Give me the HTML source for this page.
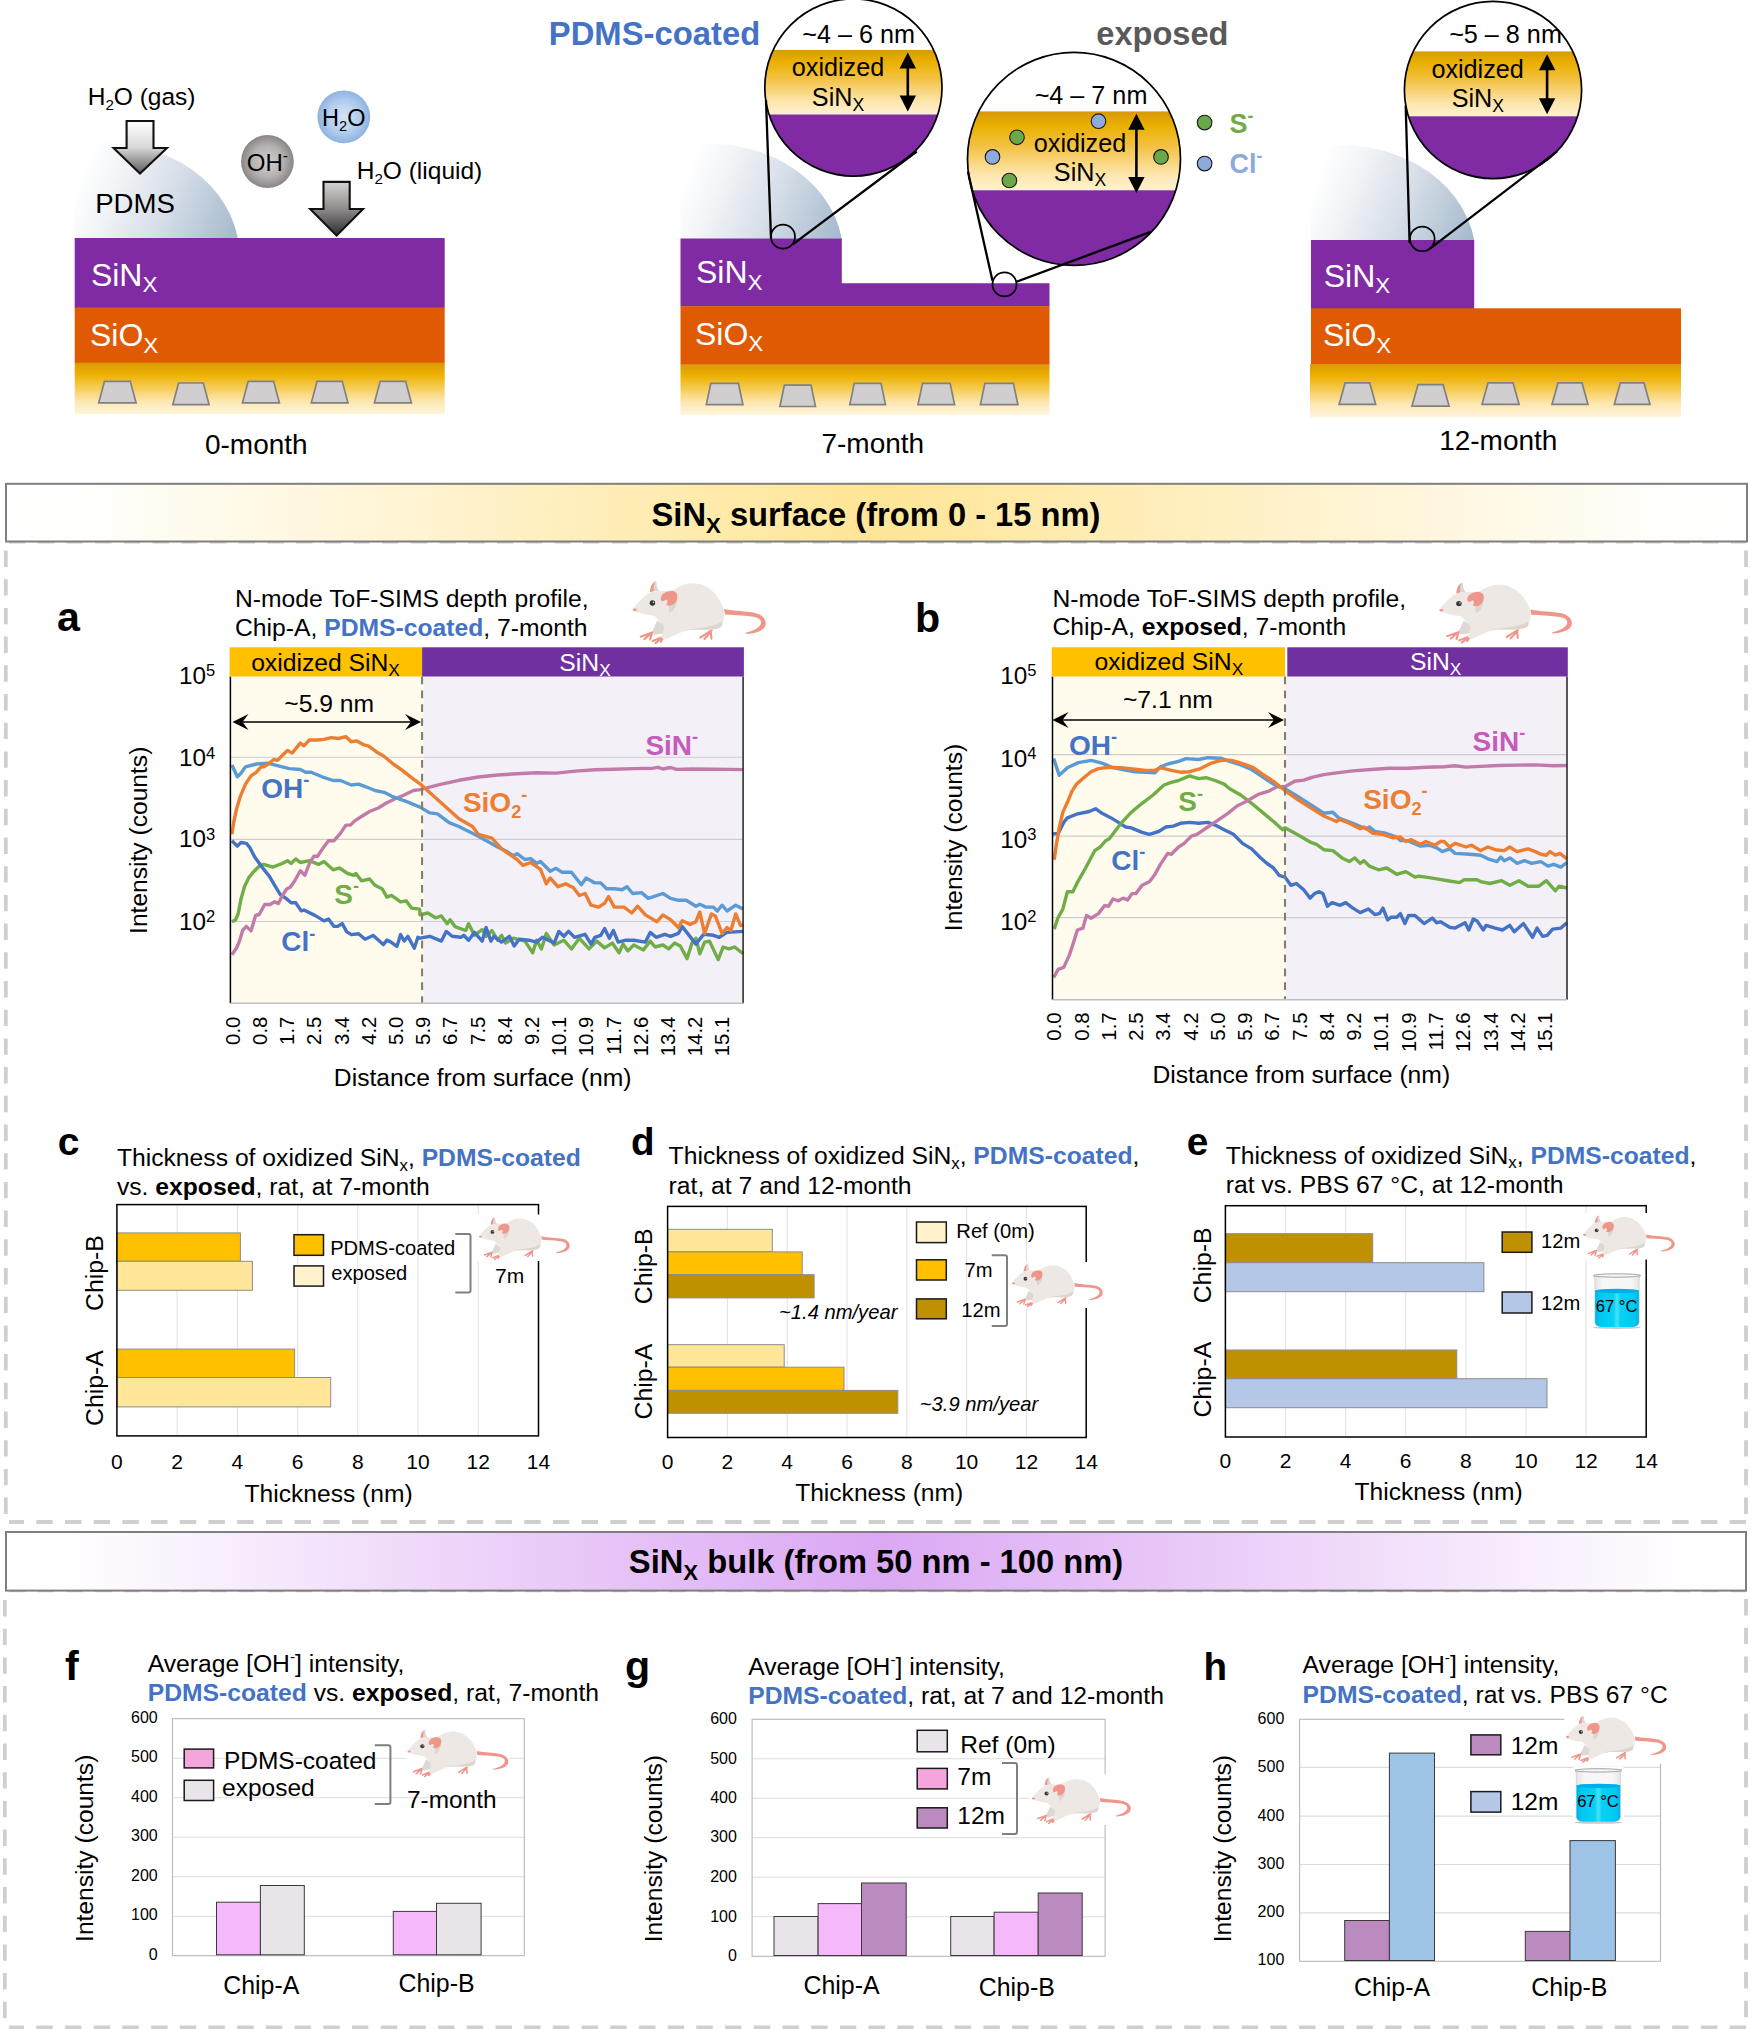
<!DOCTYPE html>
<html lang="en"><head><meta charset="utf-8"><title>SiNx surface and bulk analysis</title>
<style>
html,body{margin:0;padding:0;background:#fff;}
body{width:1750px;height:2029px;overflow:hidden;}
svg{display:block;font-family:"Liberation Sans",Arial,Helvetica,sans-serif;}
</style></head><body>
<svg width="1750" height="2029" viewBox="0 0 1750 2029">
<defs>
<linearGradient id="gold" x1="0" y1="0" x2="0" y2="1">
 <stop offset="0" stop-color="#d99b05"/><stop offset="0.22" stop-color="#ecb000"/><stop offset="0.45" stop-color="#f5c849"/><stop offset="0.75" stop-color="#fde7b0"/><stop offset="1" stop-color="#fff4dc"/>
</linearGradient>
<linearGradient id="goldc" x1="0" y1="0" x2="0" y2="1">
 <stop offset="0" stop-color="#d79a08"/><stop offset="0.18" stop-color="#eab000"/><stop offset="0.45" stop-color="#f3c246"/><stop offset="0.8" stop-color="#fde6ae"/><stop offset="1" stop-color="#fff1d2"/>
</linearGradient>
<linearGradient id="dome" x1="0.15" y1="0.1" x2="1" y2="0.9">
 <stop offset="0" stop-color="#ffffff"/><stop offset="0.25" stop-color="#f4f6f9"/><stop offset="0.6" stop-color="#cfd9e4"/><stop offset="1" stop-color="#a3b7cb"/>
</linearGradient>
<linearGradient id="arr1" x1="0" y1="0" x2="0" y2="1">
 <stop offset="0" stop-color="#ffffff"/><stop offset="0.5" stop-color="#d9d9d9"/><stop offset="1" stop-color="#5c5c5c"/>
</linearGradient>
<linearGradient id="arr2" x1="0" y1="0" x2="0" y2="1">
 <stop offset="0" stop-color="#d6d2d2"/><stop offset="0.5" stop-color="#8f8c8c"/><stop offset="1" stop-color="#2e2e2e"/>
</linearGradient>
<radialGradient id="ohg" cx="0.5" cy="0.5" r="0.5">
 <stop offset="0" stop-color="#d3cfcf"/><stop offset="0.6" stop-color="#b5b1b1"/><stop offset="1" stop-color="#8a8686"/>
</radialGradient>
<radialGradient id="h2og" cx="0.5" cy="0.5" r="0.5">
 <stop offset="0" stop-color="#d5e4f7"/><stop offset="0.6" stop-color="#b4cdee"/><stop offset="1" stop-color="#8db3e2"/>
</radialGradient>
<clipPath id="cz1"><circle cx="853.4" cy="87.5" r="88.6"/></clipPath>
<clipPath id="cz2"><circle cx="1074" cy="158.9" r="106.5"/></clipPath>
<clipPath id="cz3"><circle cx="1493" cy="90" r="88.6"/></clipPath>

<symbol id="rat" viewBox="14 11 147 70" preserveAspectRatio="none">
 <path d="M41,55 L35,68 L38,70.5 L48,69 L49.5,60 Z" fill="#ddd8d4"/>
 <path d="M114,42.5 C125,45 138,44.5 148,46.8 C156.5,49 160.5,54 159.3,60 C157.5,66.2 148,69 138,69.6 C137.6,69 137.8,68.4 138.5,68 C146,66.3 153,63 154.3,58 C155.2,53.2 150,51.6 144,50.6 C134,49.2 124,48.8 115,48.4 Z" fill="#f0958a"/>
 <path d="M35.5,68 L23,72.5 M33.5,69.5 L27,75.2 M35,70 L33.2,75.6 M46.5,73 L36,77.2 M45.5,74.2 L39,79.8 M47,74.5 L45,78 M100.5,65.5 L88,73.5 M98.5,68.5 L92.5,75 M99.5,67 L100.2,74.6" stroke="#f0958a" stroke-width="2.3" stroke-linecap="round" fill="none"/>
 <path d="M14.5,42.5 C20,35 27,28 33,24.5 L43,22.5 C50,23 56,23 61,20.5 C67,16 74,14.5 81,14.5 C96,15 109,27 113.5,43 C115.5,52 113,60 109,63 C100,66 88,64.5 78,65 C71,65.5 67,68 62,70 L50,75.6 L45.5,73.8 C47,68 48,64 48.5,61 C45,57 41,53 38,50 C30,49 22,47 17,45.5 Z" fill="#ede8e3"/>
 <path d="M68,66 C80,62.5 100,64 111,56 C113,60 111,62 109,63 C100,66 88,64.5 78,65 C73,65.2 70,66 68,66 Z" fill="#ddd6d0"/>
 <path d="M53.5,39 C57,39 60,36 62.5,31 C63,38 60,44 54.5,47 Z" fill="#dcd6d1"/>
 <path d="M45,31 C45,25 53,22 59,23 C64,24.5 64,31 61,35 C58.5,38.5 54,39.5 51,38 C53,35 52.5,32 50,32.5 C48,33 47.5,34.5 46,34 C45.3,33 45,32 45,31 Z" fill="#f0958a"/>
 <path d="M37,14 C38,12.3 39.6,11.8 40.1,13 C40,17 41,20 43,22.6 L36,23.2 Z" fill="#dcd6d1"/>
 <path d="M33,24.3 C33,19 35,15 38.2,12.8 C37,17 36.5,20 37.2,23.2 Z" fill="#f0958a"/>
 <circle cx="35.8" cy="35.8" r="3" fill="#3a3636"/><circle cx="36.9" cy="35.2" r="0.9" fill="#cfcfcf"/>
 <path d="M14.3,42.5 C15,41.5 17.5,41.5 19.5,42.5 C18.5,44 17,45 15.5,44.8 C14.8,44.3 14.3,43.5 14.3,42.5Z" fill="#f0958a"/>
</symbol>
<linearGradient id="liq" x1="0" y1="0" x2="1" y2="0">
 <stop offset="0" stop-color="#00b4e6"/><stop offset="0.12" stop-color="#00c8f2"/><stop offset="0.42" stop-color="#08d0f5"/><stop offset="0.5" stop-color="#48e2fb"/><stop offset="0.58" stop-color="#08d0f5"/><stop offset="0.9" stop-color="#00c8f2"/><stop offset="1" stop-color="#00b4e6"/>
</linearGradient>
<linearGradient id="glass" x1="0" y1="0" x2="1" y2="0">
 <stop offset="0" stop-color="#e2e2e2"/><stop offset="0.2" stop-color="#f7f7f7"/><stop offset="0.8" stop-color="#f7f7f7"/><stop offset="1" stop-color="#e2e2e2"/>
</linearGradient>

<linearGradient id="hd1" x1="0" y1="0" x2="1" y2="0">
 <stop offset="0" stop-color="#ffffff"/><stop offset="0.05" stop-color="#fffefb"/><stop offset="0.5" stop-color="#ffe596"/><stop offset="0.95" stop-color="#fffefb"/><stop offset="1" stop-color="#ffffff"/>
</linearGradient>
<linearGradient id="hd2" x1="0" y1="0" x2="1" y2="0">
 <stop offset="0" stop-color="#ffffff"/><stop offset="0.05" stop-color="#fefcff"/><stop offset="0.5" stop-color="#dba8f3"/><stop offset="0.95" stop-color="#fefcff"/><stop offset="1" stop-color="#ffffff"/>
</linearGradient>
</defs>
<rect width="1750" height="2029" fill="#fff"/>
<linearGradient id="dg1" gradientUnits="userSpaceOnUse" x1="82.7" y1="168.3" x2="237.8" y2="233.3"><stop offset="0" stop-color="#ffffff"/><stop offset="0.2" stop-color="#f3f5f8"/><stop offset="0.55" stop-color="#d6dee8"/><stop offset="1" stop-color="#a5b9cd"/></linearGradient><path d="M74.7,238.3 L74.7,146.4 A133.3,112.0 0 0 1 237.8,238.3 Z" fill="url(#dg1)"/><rect x="74.7" y="238" width="370" height="70" fill="#802aa3"/><rect x="74.7" y="307.5" width="370" height="55.5" fill="#e05a03"/><rect x="74.7" y="362.7" width="370" height="51.3" fill="url(#gold)"/><path d="M104.5,381.3 L130.3,381.3 L136.1,402.9 L98.7,402.9 Z" fill="#d0cece" stroke="#7f8184" stroke-width="1.7"/><path d="M178.6,383.0 L203.3,383.0 L209.1,404.6 L172.8,404.6 Z" fill="#d0cece" stroke="#7f8184" stroke-width="1.7"/><path d="M248.2,381.3 L273.6,381.3 L279.4,402.9 L242.4,402.9 Z" fill="#d0cece" stroke="#7f8184" stroke-width="1.7"/><path d="M317.1,381.3 L342.2,381.3 L348.0,402.9 L311.3,402.9 Z" fill="#d0cece" stroke="#7f8184" stroke-width="1.7"/><path d="M380.2,381.3 L405.6,381.3 L411.4,402.9 L374.4,402.9 Z" fill="#d0cece" stroke="#7f8184" stroke-width="1.7"/><text x="90.9" y="285.7" font-size="32" text-anchor="start" fill="#fff" ><tspan>SiN</tspan><tspan font-size="22.4" dy="6.4">X</tspan></text><text x="90.0" y="346.4" font-size="32" text-anchor="start" fill="#fff" ><tspan>SiO</tspan><tspan font-size="22.4" dy="6.4">X</tspan></text><text x="87.7" y="105.1" font-size="24.5" text-anchor="start" fill="#000" ><tspan>H</tspan><tspan font-size="15.2" dy="4.9">2</tspan><tspan dy="-4.9">O (gas)</tspan></text><path d="M126.6,121 L153.5,121 L153.5,148 L166.9,148 L140,173.5 L113.6,148 L126.6,148 Z" fill="url(#arr1)" stroke="#111" stroke-width="2.1" stroke-linejoin="miter"/><text x="95.2" y="213.2" font-size="27.6" text-anchor="start" fill="#000" ><tspan>PDMS</tspan></text><circle cx="267.4" cy="161.5" r="26.4" fill="url(#ohg)"/><text x="267.4" y="170.6" font-size="24" text-anchor="middle" fill="#000" ><tspan>OH</tspan><tspan font-size="15.6" dy="-10.1">-</tspan></text><circle cx="343.8" cy="116.9" r="26.4" fill="url(#h2og)"/><text x="343.8" y="126.0" font-size="23.5" text-anchor="middle" fill="#000" ><tspan>H</tspan><tspan font-size="14.6" dy="4.7">2</tspan><tspan dy="-4.7">O</tspan></text><text x="356.7" y="179.0" font-size="24.5" text-anchor="start" fill="#000" ><tspan>H</tspan><tspan font-size="15.2" dy="4.9">2</tspan><tspan dy="-4.9">O (liquid)</tspan></text><path d="M323.5,181.9 L349.7,181.9 L349.7,209 L363,209 L336.6,235.5 L310.2,209 L323.5,209 Z" fill="url(#arr2)" stroke="#111" stroke-width="2.1" stroke-linejoin="miter"/><text x="256.3" y="453.6" font-size="28" text-anchor="middle" fill="#000" ><tspan>0-month</tspan></text><linearGradient id="dg2" gradientUnits="userSpaceOnUse" x1="688.5" y1="168.8" x2="841.8" y2="233.8"><stop offset="0" stop-color="#ffffff"/><stop offset="0.2" stop-color="#f3f5f8"/><stop offset="0.55" stop-color="#d6dee8"/><stop offset="1" stop-color="#a5b9cd"/></linearGradient><path d="M680.5,238.8 L680.5,146.6 A133.3,112.0 0 0 1 841.8,238.8 Z" fill="url(#dg2)"/><path d="M680.5,238.5 H841.8 V283.2 H1049.5 V306.5 H680.5 Z" fill="#802aa3"/><rect x="680.5" y="306.2" width="369" height="58.6" fill="#e05a03"/><rect x="680.5" y="364.6" width="369" height="50" fill="url(#gold)"/><path d="M710.8,383.3 L738.4,383.3 L742.9,404.7 L706.3,404.7 Z" fill="#d0cece" stroke="#7f8184" stroke-width="1.7"/><path d="M784.4,385.1 L811.0,385.1 L815.5,406.5 L779.9,406.5 Z" fill="#d0cece" stroke="#7f8184" stroke-width="1.7"/><path d="M854.3,383.3 L881.0,383.3 L885.5,404.7 L849.8,404.7 Z" fill="#d0cece" stroke="#7f8184" stroke-width="1.7"/><path d="M922.5,383.3 L950.1,383.3 L954.6,404.7 L918.0,404.7 Z" fill="#d0cece" stroke="#7f8184" stroke-width="1.7"/><path d="M984.9,383.3 L1013.4,383.3 L1017.9,404.7 L980.4,404.7 Z" fill="#d0cece" stroke="#7f8184" stroke-width="1.7"/><text x="696.0" y="283.4" font-size="32" text-anchor="start" fill="#fff" ><tspan>SiN</tspan><tspan font-size="22.4" dy="6.4">X</tspan></text><text x="695.0" y="344.9" font-size="32" text-anchor="start" fill="#fff" ><tspan>SiO</tspan><tspan font-size="22.4" dy="6.4">X</tspan></text><text x="548.8" y="45.0" font-size="32.8" text-anchor="start" fill="#4472c4" font-weight="bold" ><tspan>PDMS-coated</tspan></text><text x="1096.3" y="45.0" font-size="32.6" text-anchor="start" fill="#595959" font-weight="bold" ><tspan>exposed</tspan></text><g clip-path="url(#cz1)"><rect x="760" y="-5" width="190" height="55" fill="#fff"/><rect x="760" y="49.9" width="190" height="64.8" fill="url(#goldc)"/><rect x="760" y="114.5" width="190" height="70" fill="#802aa3"/></g><circle cx="853.4" cy="87.5" r="88.6" fill="none" stroke="#000" stroke-width="1.7"/><text x="858.7" y="42.7" font-size="25.2" text-anchor="middle" fill="#000" ><tspan>~4 – 6 nm</tspan></text><text x="838.0" y="76.2" font-size="25.2" text-anchor="middle" fill="#000" ><tspan>oxidized</tspan></text><text x="838.0" y="106.0" font-size="25.2" text-anchor="middle" fill="#000" ><tspan>SiN</tspan><tspan font-size="17.6" dy="5.0">X</tspan></text><line x1="907.8" y1="66.6" x2="907.8" y2="97.6" stroke="#000" stroke-width="2.6"/><path d="M907.8,52.6 L899.5999999999999,68.6 L916.0,68.6 Z M907.8,111.6 L899.5999999999999,95.6 L916.0,95.6 Z" fill="#000"/><circle cx="783" cy="236.7" r="12" fill="none" stroke="#000" stroke-width="1.7"/><path d="M771,238.5 L766,100.3 M792.8,244.3 L916.7,151.5" stroke="#000" stroke-width="2.3" fill="none"/><g clip-path="url(#cz2)"><rect x="960" y="50" width="230" height="62" fill="#fff"/><rect x="960" y="111.4" width="230" height="79.2" fill="url(#goldc)"/><rect x="960" y="190.3" width="230" height="80" fill="#802aa3"/></g><circle cx="1074" cy="158.9" r="106.5" fill="none" stroke="#000" stroke-width="1.7"/><text x="1091.0" y="103.8" font-size="25.2" text-anchor="middle" fill="#000" ><tspan>~4 – 7 nm</tspan></text><text x="1080.0" y="151.9" font-size="25.2" text-anchor="middle" fill="#000" ><tspan>oxidized</tspan></text><text x="1080.0" y="180.9" font-size="25.2" text-anchor="middle" fill="#000" ><tspan>SiN</tspan><tspan font-size="17.6" dy="5.0">X</tspan></text><line x1="1136.4" y1="127.7" x2="1136.4" y2="179.0" stroke="#000" stroke-width="2.6"/><path d="M1136.4,113.7 L1128.2,129.7 L1144.6000000000001,129.7 Z M1136.4,193 L1128.2,177 L1144.6000000000001,177 Z" fill="#000"/><circle cx="1017" cy="137.3" r="7.3" fill="#6aa84a" stroke="#1a1a1a" stroke-width="1.1"/><circle cx="1098.5" cy="121.2" r="7.3" fill="#8eaadb" stroke="#1a1a1a" stroke-width="1.1"/><circle cx="992.5" cy="156.9" r="7.3" fill="#8eaadb" stroke="#1a1a1a" stroke-width="1.1"/><circle cx="1009.4" cy="180.5" r="7.3" fill="#6aa84a" stroke="#1a1a1a" stroke-width="1.1"/><circle cx="1161" cy="156.9" r="7.3" fill="#6aa84a" stroke="#1a1a1a" stroke-width="1.1"/><circle cx="1204.6" cy="122.6" r="7.3" fill="#6aa84a" stroke="#1a1a1a" stroke-width="1.1"/><circle cx="1204.6" cy="163.6" r="7.3" fill="#8eaadb" stroke="#1a1a1a" stroke-width="1.1"/><text x="1229.6" y="133.2" font-size="27" text-anchor="start" fill="#70ad47" font-weight="bold" ><tspan>S</tspan><tspan font-size="17.6" dy="-11.3">-</tspan></text><text x="1229.6" y="173.4" font-size="27" text-anchor="start" fill="#8eaadb" font-weight="bold" ><tspan>Cl</tspan><tspan font-size="17.6" dy="-11.3">-</tspan></text><circle cx="1004.5" cy="284.4" r="12" fill="none" stroke="#000" stroke-width="1.7"/><path d="M992.5,280.8 L967.9,171.6 M1016,282 L1150.7,231.8" stroke="#000" stroke-width="2.3" fill="none"/><text x="872.8" y="452.8" font-size="28" text-anchor="middle" fill="#000" ><tspan>7-month</tspan></text><linearGradient id="dg3" gradientUnits="userSpaceOnUse" x1="1319.0" y1="170.3" x2="1474.3" y2="235.3"><stop offset="0" stop-color="#ffffff"/><stop offset="0.2" stop-color="#f3f5f8"/><stop offset="0.55" stop-color="#d6dee8"/><stop offset="1" stop-color="#a5b9cd"/></linearGradient><path d="M1311.0,240.3 L1311.0,148.5 A133.3,112.0 0 0 1 1474.3,240.3 Z" fill="url(#dg3)"/><rect x="1311" y="240" width="163.2" height="69" fill="#802aa3"/><rect x="1311" y="308.3" width="370" height="56" fill="#e05a03"/><rect x="1310" y="364" width="371" height="53" fill="url(#gold)"/><path d="M1345.1,382.9 L1369.7,382.9 L1375.7,404.3 L1339.1,404.3 Z" fill="#d0cece" stroke="#7f8184" stroke-width="1.7"/><path d="M1418.0,384.7 L1443.1,384.7 L1449.1,406.1 L1412.0,406.1 Z" fill="#d0cece" stroke="#7f8184" stroke-width="1.7"/><path d="M1488.0,382.9 L1513.1,382.9 L1519.1,404.3 L1482.0,404.3 Z" fill="#d0cece" stroke="#7f8184" stroke-width="1.7"/><path d="M1558.0,382.9 L1582.0,382.9 L1588.0,404.3 L1552.0,404.3 Z" fill="#d0cece" stroke="#7f8184" stroke-width="1.7"/><path d="M1620.3,382.9 L1644.0,382.9 L1650.0,404.3 L1614.3,404.3 Z" fill="#d0cece" stroke="#7f8184" stroke-width="1.7"/><text x="1323.7" y="287.0" font-size="32" text-anchor="start" fill="#fff" ><tspan>SiN</tspan><tspan font-size="22.4" dy="6.4">X</tspan></text><text x="1323.0" y="346.1" font-size="32" text-anchor="start" fill="#fff" ><tspan>SiO</tspan><tspan font-size="22.4" dy="6.4">X</tspan></text><g clip-path="url(#cz3)"><rect x="1400" y="0" width="190" height="52" fill="#fff"/><rect x="1400" y="51.4" width="190" height="65.2" fill="url(#goldc)"/><rect x="1400" y="116.3" width="190" height="70" fill="#802aa3"/></g><circle cx="1493" cy="90" r="88.6" fill="none" stroke="#000" stroke-width="1.7"/><text x="1505.5" y="43.3" font-size="25.2" text-anchor="middle" fill="#000" ><tspan>~5 – 8 nm</tspan></text><text x="1477.6" y="77.5" font-size="25.2" text-anchor="middle" fill="#000" ><tspan>oxidized</tspan></text><text x="1477.9" y="106.7" font-size="25.2" text-anchor="middle" fill="#000" ><tspan>SiN</tspan><tspan font-size="17.6" dy="5.0">X</tspan></text><line x1="1547.1" y1="68.3" x2="1547.1" y2="100.3" stroke="#000" stroke-width="2.6"/><path d="M1547.1,54.3 L1538.8999999999999,70.3 L1555.3,70.3 Z M1547.1,114.3 L1538.8999999999999,98.3 L1555.3,98.3 Z" fill="#000"/><circle cx="1422.3" cy="238.9" r="12.3" fill="none" stroke="#000" stroke-width="1.7"/><path d="M1409.6,242.9 L1405.7,105.7 M1430,248.6 L1557,151.4" stroke="#000" stroke-width="2.3" fill="none"/><text x="1498.3" y="450.4" font-size="28" text-anchor="middle" fill="#000" ><tspan>12-month</tspan></text><g fill="none" stroke="#d0cece" stroke-width="3.8" stroke-dasharray="16.4 12.3"><path d="M9,541.6 H1746 M1746,550.5 V1522 M1746,1522 H9"/><path d="M5.8,550.5 V1522"/><path d="M9,1590.4 H1746 M1746,1599 V2027 M1746,2027.5 H9"/><path d="M4.8,1600 V2027"/></g><rect x="6" y="483.8" width="1741" height="57.7" fill="url(#hd1)" stroke="#7f7f7f" stroke-width="2"/><text x="876.0" y="526.4" font-size="32.7" text-anchor="middle" fill="#000" font-weight="bold" ><tspan>SiN</tspan><tspan font-size="22.2" dy="6.5">X</tspan><tspan dy="-6.5"> surface (from 0 - 15 nm)</tspan></text><rect x="6" y="1532" width="1740" height="58.6" fill="url(#hd2)" stroke="#7f7f7f" stroke-width="2"/><text x="876.0" y="1573.2" font-size="32.7" text-anchor="middle" fill="#000" font-weight="bold" ><tspan>SiN</tspan><tspan font-size="22.2" dy="6.5">X</tspan><tspan dy="-6.5"> bulk (from 50 nm - 100 nm)</tspan></text><text x="57.0" y="630.9" font-size="41.2" text-anchor="start" fill="#000" font-weight="bold" ><tspan>a</tspan></text><text x="235.0" y="606.7" font-size="24.7" text-anchor="start" fill="#000" ><tspan>N-mode ToF-SIMS depth profile,</tspan></text><text x="235.0" y="636.0" font-size="24.7" text-anchor="start" fill="#000" ><tspan>Chip-A, </tspan><tspan fill="#4472c4" font-weight="bold">PDMS-coated</tspan><tspan>, 7-month</tspan></text><rect x="230.4" y="676.5" width="193.3" height="326.7" fill="#fffcee"/><rect x="423.70000000000005" y="676.5" width="319.4" height="326.7" fill="#f4f0f8"/><line x1="230.4" y1="757.3" x2="743.1" y2="757.3" stroke="#cfcbd0" stroke-width="1.1"/><line x1="230.4" y1="839.4" x2="743.1" y2="839.4" stroke="#cfcbd0" stroke-width="1.1"/><line x1="230.4" y1="921.5" x2="743.1" y2="921.5" stroke="#cfcbd0" stroke-width="1.1"/><g fill="none" stroke-width="3.4" stroke-linejoin="round" stroke-linecap="butt"><path d="M231.9,921.8 L235.5,920.0 L238.2,913.6 L241.0,899.0 L244.6,886.3 L249.2,877.1 L253.7,871.7 L259.2,866.2 L263.8,864.4 L272.9,867.1 L282.0,863.5 L287.5,860.7 L291.1,863.5 L295.7,858.9 L300.3,862.5 L309.4,860.7 L318.5,864.4 L324.0,861.6 L333.1,869.8 L339.5,868.0 L347.7,873.5 L354.1,875.3 L355.9,873.5 L361.4,880.8 L369.6,879.0 L375.0,885.3 L382.3,889.0 L386.9,897.2 L391.5,895.4 L400.6,901.8 L406.1,900.8 L411.5,908.1 L419.7,909.1 L420.0,914.9 L427.8,913.0 L435.5,917.8 L441.4,915.9 L447.2,923.7 L450.1,919.8 L455.0,926.6 L465.7,930.5 L468.6,923.7 L474.4,935.3 L482.2,929.5 L486.1,936.3 L491.9,930.5 L497.7,940.2 L501.6,935.3 L505.5,943.1 L513.3,938.2 L524.9,941.1 L532.7,952.8 L536.6,940.2 L541.4,948.9 L546.3,933.4 L554.1,945.0 L563.8,940.2 L571.5,948.9 L579.3,938.2 L589.0,948.9 L596.8,941.1 L604.6,947.9 L612.3,943.1 L619.1,952.8 L623.0,944.1 L627.9,950.9 L633.7,945.0 L643.4,949.9 L650.2,941.1 L655.1,947.0 L662.9,945.0 L668.7,948.9 L674.5,943.1 L680.3,946.0 L687.1,958.6 L692.0,943.1 L695.9,938.2 L699.8,953.8 L704.6,942.1 L709.5,941.1 L718.2,959.6 L723.1,947.0 L728.9,948.9 L734.7,947.0 L743.1,953.8" stroke="#70ad47"/><path d="M231.9,840.7 L237.3,846.1 L241.0,842.5 L246.4,843.4 L250.1,847.9 L254.7,857.1 L262.0,867.1 L269.3,876.2 L274.7,885.3 L280.2,894.5 L285.7,898.1 L291.1,902.7 L295.7,902.7 L301.2,910.9 L303.9,910.0 L314.9,915.4 L324.0,920.9 L328.5,919.1 L334.0,926.4 L337.7,926.4 L342.2,923.6 L346.8,931.9 L351.3,934.6 L358.6,933.7 L365.0,939.2 L373.2,935.5 L383.3,944.6 L386.9,940.1 L390.6,941.9 L396.9,946.4 L400.6,934.6 L404.2,941.0 L407.9,936.4 L414.3,948.3 L417.9,937.3 L420.0,938.2 L429.7,936.3 L441.4,941.1 L446.2,931.4 L452.1,936.3 L460.8,937.3 L463.7,935.3 L468.6,940.2 L474.4,932.4 L482.2,941.1 L486.1,927.5 L490.9,941.1 L493.8,936.3 L501.6,942.1 L509.4,936.3 L514.2,946.0 L519.1,939.2 L528.8,940.2 L536.6,942.1 L542.4,937.3 L554.1,943.1 L558.9,931.4 L563.8,936.3 L568.6,931.4 L574.5,937.3 L585.1,934.3 L591.0,944.1 L594.9,937.3 L600.7,935.3 L604.6,928.5 L609.4,938.2 L613.3,930.5 L618.2,942.1 L625.9,940.2 L633.7,940.2 L645.4,942.1 L650.2,932.4 L656.1,937.3 L664.8,934.3 L670.6,936.3 L678.4,933.4 L682.3,926.6 L695.9,944.1 L703.7,934.3 L713.4,935.3 L719.2,937.3 L727.0,932.4 L743.1,931.4" stroke="#4472c4"/><path d="M231.9,954.7 L236.4,948.3 L239.2,941.9 L242.8,930.0 L246.4,926.4 L251.0,930.9 L255.6,915.4 L259.2,914.5 L264.7,904.5 L270.2,904.5 L274.7,901.8 L278.4,903.6 L282.0,896.3 L286.6,889.0 L290.2,887.2 L294.8,880.8 L300.3,870.7 L304.8,875.3 L309.4,863.5 L313.9,856.2 L317.6,856.2 L323.1,847.9 L328.5,840.7 L334.0,840.7 L340.4,833.4 L345.9,825.1 L350.4,825.1 L355.0,820.6 L362.3,816.0 L369.6,811.5 L378.7,807.8 L386.0,803.3 L395.1,798.7 L404.2,795.0 L413.4,790.5 L420.0,789.6 L439.4,784.7 L458.9,780.3 L478.3,777.0 L497.7,775.0 L517.1,773.7 L536.6,772.7 L556.0,773.1 L575.4,771.1 L594.9,769.8 L614.3,769.2 L633.7,768.6 L653.1,768.2 L658.0,767.3 L662.9,769.0 L670.6,767.5 L676.5,769.4 L692.0,769.0 L711.4,769.2 L730.9,769.4 L743.1,769.6" stroke="#c27ba8"/><path d="M231.9,765.0 L237.3,776.8 L241.0,773.2 L245.5,766.8 L256.5,764.0 L267.4,763.1 L278.4,765.9 L289.3,768.6 L300.3,769.5 L305.7,772.2 L311.2,772.2 L322.1,776.8 L333.1,780.5 L340.4,780.5 L351.3,785.0 L358.6,784.1 L365.9,786.8 L375.0,790.5 L384.2,792.3 L393.3,796.9 L406.1,801.4 L420.0,807.1 L429.7,812.9 L437.5,813.9 L449.1,822.6 L458.9,826.5 L478.3,836.2 L497.7,846.9 L507.4,851.8 L513.3,855.7 L517.1,853.7 L524.9,859.5 L530.7,858.6 L536.6,863.4 L540.5,861.5 L550.2,871.2 L556.0,868.3 L561.8,872.2 L571.5,872.2 L581.3,884.8 L586.1,878.0 L594.9,882.9 L600.7,882.9 L606.5,888.7 L614.3,888.7 L622.1,889.7 L626.9,886.7 L632.7,893.5 L641.5,892.6 L648.3,898.4 L662.9,893.5 L670.6,898.4 L678.4,900.3 L686.2,900.3 L695.9,906.2 L699.8,904.2 L705.6,907.1 L713.4,907.1 L717.3,911.0 L722.1,905.2 L727.0,911.0 L735.7,905.2 L743.1,909.1" stroke="#5b9bd5"/><path d="M231.9,834.3 L233.7,822.4 L236.4,809.6 L240.1,796.9 L245.5,784.1 L251.0,775.9 L256.5,772.2 L261.0,766.8 L263.8,766.8 L268.3,764.0 L273.8,759.5 L277.5,760.4 L282.0,755.8 L287.5,750.4 L292.1,753.1 L300.3,743.1 L303.9,745.8 L309.4,740.0 L316.7,740.0 L324.0,739.4 L331.3,737.6 L338.6,738.5 L345.9,736.7 L351.3,741.8 L356.8,740.9 L364.1,744.9 L368.7,746.2 L376.9,752.2 L383.3,755.8 L393.3,764.0 L402.4,770.4 L411.5,777.7 L420.0,783.8 L439.4,801.3 L458.9,818.7 L472.5,826.5 L478.3,834.3 L491.9,838.2 L501.6,848.9 L517.1,859.5 L523.0,865.4 L530.7,862.5 L540.5,869.3 L546.3,883.8 L550.2,878.0 L557.9,886.7 L565.7,883.8 L573.5,887.7 L579.3,895.5 L585.1,893.5 L591.0,905.2 L598.7,907.1 L604.6,903.3 L608.5,896.5 L614.3,907.1 L624.0,907.1 L631.8,913.0 L637.6,906.2 L645.4,914.9 L657.0,921.7 L662.9,914.9 L670.6,919.8 L678.4,927.5 L682.3,920.7 L690.1,924.6 L695.9,921.7 L699.8,912.0 L704.6,933.4 L711.4,913.9 L715.3,915.9 L722.1,933.4 L727.0,927.5 L730.9,930.5 L735.7,913.9 L740.6,925.6 L743.1,924.6" stroke="#ed7d31"/></g><line x1="422.1" y1="676.5" x2="422.1" y2="1003.2" stroke="#827e6e" stroke-width="2.1" stroke-dasharray="7.8 6.1"/><line x1="230.4" y1="676.5" x2="230.4" y2="1003.2" stroke="#000" stroke-width="1.5"/><line x1="743.1" y1="676.5" x2="743.1" y2="1003.2" stroke="#222" stroke-width="1.5"/><line x1="230.4" y1="1003.2" x2="743.1" y2="1003.2" stroke="#bfbfbf" stroke-width="1.6"/><rect x="229.6" y="647.3" width="192.5" height="29.2" fill="#ffc000"/><rect x="422.1" y="647.3" width="321.8" height="29.2" fill="#7030a0"/><text x="179.0" y="683.8" font-size="24.3" text-anchor="start" fill="#000" ><tspan>10</tspan><tspan font-size="16.5" dy="-7.5">5</tspan></text><text x="179.0" y="766.1" font-size="24.3" text-anchor="start" fill="#000" ><tspan>10</tspan><tspan font-size="16.5" dy="-7.5">4</tspan></text><text x="179.0" y="847.4" font-size="24.3" text-anchor="start" fill="#000" ><tspan>10</tspan><tspan font-size="16.5" dy="-7.5">3</tspan></text><text x="179.0" y="929.7" font-size="24.3" text-anchor="start" fill="#000" ><tspan>10</tspan><tspan font-size="16.5" dy="-7.5">2</tspan></text><text transform="translate(147,840.3) rotate(-90)" text-anchor="middle" font-size="24.6">Intensity (counts)</text><text transform="translate(239.8,1016.6) rotate(-90)" text-anchor="end" font-size="20.4">0.0</text><text transform="translate(267.0,1016.6) rotate(-90)" text-anchor="end" font-size="20.4">0.8</text><text transform="translate(294.2,1016.6) rotate(-90)" text-anchor="end" font-size="20.4">1.7</text><text transform="translate(321.4,1016.6) rotate(-90)" text-anchor="end" font-size="20.4">2.5</text><text transform="translate(348.6,1016.6) rotate(-90)" text-anchor="end" font-size="20.4">3.4</text><text transform="translate(375.8,1016.6) rotate(-90)" text-anchor="end" font-size="20.4">4.2</text><text transform="translate(403.0,1016.6) rotate(-90)" text-anchor="end" font-size="20.4">5.0</text><text transform="translate(430.2,1016.6) rotate(-90)" text-anchor="end" font-size="20.4">5.9</text><text transform="translate(457.4,1016.6) rotate(-90)" text-anchor="end" font-size="20.4">6.7</text><text transform="translate(484.6,1016.6) rotate(-90)" text-anchor="end" font-size="20.4">7.5</text><text transform="translate(511.8,1016.6) rotate(-90)" text-anchor="end" font-size="20.4">8.4</text><text transform="translate(539.0,1016.6) rotate(-90)" text-anchor="end" font-size="20.4">9.2</text><text transform="translate(566.2,1016.6) rotate(-90)" text-anchor="end" font-size="20.4">10.1</text><text transform="translate(593.4,1016.6) rotate(-90)" text-anchor="end" font-size="20.4">10.9</text><text transform="translate(620.6,1016.6) rotate(-90)" text-anchor="end" font-size="20.4">11.7</text><text transform="translate(647.8,1016.6) rotate(-90)" text-anchor="end" font-size="20.4">12.6</text><text transform="translate(675.0,1016.6) rotate(-90)" text-anchor="end" font-size="20.4">13.4</text><text transform="translate(702.2,1016.6) rotate(-90)" text-anchor="end" font-size="20.4">14.2</text><text transform="translate(729.4,1016.6) rotate(-90)" text-anchor="end" font-size="20.4">15.1</text><text x="482.7" y="1086.4" font-size="24.7" text-anchor="middle" fill="#000" ><tspan>Distance from surface (nm)</tspan></text><text x="325.5" y="671.0" font-size="24.7" text-anchor="middle" fill="#000" ><tspan>oxidized SiN</tspan><tspan font-size="17.3" dy="4.9">X</tspan></text><text x="585.0" y="671.0" font-size="24.7" text-anchor="middle" fill="#fff" ><tspan>SiN</tspan><tspan font-size="17.3" dy="4.9">X</tspan></text><text x="329.2" y="712.1" font-size="24.7" text-anchor="middle" fill="#000" ><tspan>~5.9 nm</tspan></text><line x1="234.5" y1="722" x2="419" y2="722" stroke="#000" stroke-width="1.6"/><path d="M232.5,722 L248.5,714 L242.5,722 L248.5,730 Z M421,722 L405,714 L411,722 L405,730 Z" fill="#000"/><text x="261.3" y="798.0" font-size="28" text-anchor="start" fill="#4472c4" font-weight="bold" ><tspan>OH</tspan><tspan font-size="18.2" dy="-11.8">-</tspan></text><text x="462.9" y="812.4" font-size="28" text-anchor="start" fill="#ed7d31" font-weight="bold" ><tspan>SiO</tspan><tspan font-size="18.2" dy="5.6">2</tspan><tspan font-size="18.2" dy="-17.4">-</tspan></text><text x="645.4" y="754.8" font-size="28" text-anchor="start" fill="#c55cbc" font-weight="bold" ><tspan>SiN</tspan><tspan font-size="18.2" dy="-11.8">-</tspan></text><text x="334.3" y="904.0" font-size="28" text-anchor="start" fill="#70ad47" font-weight="bold" ><tspan>S</tspan><tspan font-size="18.2" dy="-11.8">-</tspan></text><text x="281.3" y="951.3" font-size="28" text-anchor="start" fill="#4472c4" font-weight="bold" ><tspan>Cl</tspan><tspan font-size="18.2" dy="-11.8">-</tspan></text><use href="#rat" x="632.5" y="580.1" width="134.6" height="64.4"/><use href="#rat" x="1439.0" y="581.6" width="134.3" height="62.1"/><text x="915.0" y="631.6" font-size="41.2" text-anchor="start" fill="#000" font-weight="bold" ><tspan>b</tspan></text><text x="1052.5" y="606.5" font-size="24.7" text-anchor="start" fill="#000" ><tspan>N-mode ToF-SIMS depth profile,</tspan></text><text x="1052.5" y="634.9" font-size="24.7" text-anchor="start" fill="#000" ><tspan>Chip-A, </tspan><tspan font-weight="bold">exposed</tspan><tspan>, 7-month</tspan></text><rect x="1052.5" y="676.5" width="233.4" height="323.3" fill="#fffcee"/><rect x="1285.9" y="676.5" width="281.1" height="323.3" fill="#f4f0f8"/><line x1="1052.5" y1="754.6" x2="1567" y2="754.6" stroke="#cfcbd0" stroke-width="1.1"/><line x1="1052.5" y1="836.1" x2="1567" y2="836.1" stroke="#cfcbd0" stroke-width="1.1"/><line x1="1052.5" y1="917.6" x2="1567" y2="917.6" stroke="#cfcbd0" stroke-width="1.1"/><g fill="none" stroke-width="3.4" stroke-linejoin="round" stroke-linecap="butt"><path d="M1052.8,833.9 L1058.2,833.4 L1063.7,822.4 L1067.4,817.9 L1076.5,814.2 L1089.3,811.5 L1095.6,808.7 L1102.0,813.3 L1111.1,817.9 L1118.4,822.4 L1125.7,827.0 L1131.2,827.9 L1142.1,832.4 L1149.4,834.3 L1158.6,831.5 L1165.9,827.0 L1173.2,826.1 L1180.5,823.3 L1189.6,822.4 L1198.7,823.3 L1207.8,822.4 L1215.1,825.1 L1224.2,829.7 L1233.4,834.3 L1242.5,843.4 L1251.6,848.9 L1260.7,858.0 L1267.1,863.5 L1273.5,868.0 L1279.0,875.3 L1284.9,877.1 L1290.9,885.3 L1296.4,883.5 L1303.7,889.8 L1310.1,898.1 L1314.7,893.5 L1319.2,891.7 L1322.9,893.5 L1327.4,906.3 L1332.0,902.6 L1340.2,905.3 L1345.7,902.6 L1352.9,908.1 L1360.2,912.6 L1368.4,909.0 L1374.8,914.5 L1379.4,913.6 L1383.0,908.1 L1387.6,919.9 L1391.2,917.2 L1396.7,917.2 L1400.4,913.6 L1404.9,923.6 L1408.6,915.4 L1415.0,915.4 L1424.1,923.6 L1432.3,918.1 L1436.8,922.7 L1440.5,921.8 L1449.6,927.2 L1455.1,928.1 L1465.1,922.7 L1468.8,930.0 L1473.3,919.0 L1477.0,920.9 L1483.3,930.0 L1486.1,925.4 L1495.2,928.1 L1502.5,930.0 L1509.8,925.4 L1514.3,931.8 L1523.5,923.6 L1532.6,937.3 L1537.1,928.1 L1542.6,936.4 L1547.2,935.4 L1552.6,929.1 L1560.9,928.1 L1566.9,922.7" stroke="#4472c4"/><path d="M1054.2,929.1 L1058.2,917.3 L1062.8,909.1 L1067.4,891.7 L1072.8,891.7 L1078.3,880.8 L1085.6,868.0 L1094.7,850.7 L1100.2,847.0 L1105.7,840.7 L1109.3,838.8 L1120.3,824.2 L1131.2,812.4 L1142.1,803.3 L1153.1,795.0 L1164.0,785.0 L1171.3,782.3 L1178.6,780.5 L1189.6,775.9 L1198.7,778.6 L1206.0,777.7 L1215.1,780.5 L1224.2,784.1 L1229.7,788.7 L1240.7,795.0 L1251.6,803.3 L1262.5,812.4 L1273.5,821.5 L1282.6,829.7 L1284.9,827.8 L1298.2,835.1 L1311.0,842.4 L1316.5,844.3 L1323.8,849.7 L1332.9,850.6 L1342.0,857.9 L1349.3,861.6 L1354.8,857.9 L1360.2,863.4 L1363.9,860.7 L1369.4,866.1 L1378.5,869.8 L1386.7,868.0 L1396.7,874.3 L1405.8,871.6 L1415.0,877.1 L1418.6,876.2 L1425.9,877.1 L1436.8,878.9 L1447.8,880.7 L1459.6,882.6 L1464.2,879.8 L1477.0,879.8 L1480.6,881.6 L1489.7,883.5 L1501.6,880.7 L1509.8,885.3 L1518.9,880.7 L1528.0,886.2 L1539.0,886.2 L1546.3,880.7 L1555.4,890.8 L1559.0,886.2 L1566.9,888.0" stroke="#70ad47"/><path d="M1053.7,977.5 L1058.2,969.3 L1063.7,967.4 L1069.2,955.6 L1072.8,944.6 L1077.4,930.0 L1082.9,928.2 L1086.5,915.4 L1091.1,918.2 L1098.4,913.6 L1104.8,905.4 L1108.4,906.3 L1113.0,899.0 L1118.4,900.8 L1123.0,898.1 L1127.6,899.9 L1132.1,893.6 L1135.8,893.6 L1142.1,885.3 L1149.4,881.7 L1154.9,874.4 L1160.4,864.4 L1167.7,853.4 L1171.3,854.3 L1178.6,847.0 L1184.1,843.4 L1191.4,836.1 L1196.9,834.3 L1207.8,827.0 L1218.8,819.7 L1227.9,813.3 L1237.0,806.0 L1246.1,801.4 L1258.9,794.1 L1268.0,791.4 L1277.1,786.8 L1284.9,786.8 L1294.6,781.3 L1303.7,780.1 L1312.8,777.1 L1323.8,774.6 L1334.7,773.1 L1352.9,770.9 L1371.2,769.5 L1389.4,768.2 L1407.7,768.2 L1425.9,767.3 L1444.1,766.7 L1455.1,765.8 L1466.0,767.1 L1480.6,766.4 L1498.8,765.5 L1517.1,765.1 L1535.3,764.9 L1553.6,765.8 L1566.9,765.5" stroke="#c27ba8"/><path d="M1053.7,758.6 L1059.2,775.3 L1067.4,767.7 L1078.3,762.6 L1091.1,760.4 L1102.0,763.1 L1113.0,767.7 L1123.9,769.9 L1134.9,771.7 L1145.8,772.2 L1154.9,772.8 L1160.4,766.8 L1167.7,764.0 L1178.6,761.3 L1185.9,758.6 L1198.7,759.5 L1207.8,757.7 L1220.6,758.2 L1229.7,761.3 L1240.7,765.0 L1251.6,769.5 L1262.5,776.8 L1273.5,784.1 L1284.9,788.6 L1298.2,796.8 L1311.0,805.0 L1323.8,813.3 L1332.9,812.3 L1338.4,817.8 L1352.9,823.3 L1365.7,828.8 L1369.4,826.9 L1374.8,831.5 L1385.8,833.3 L1396.7,837.0 L1400.4,840.6 L1407.7,840.6 L1420.4,846.1 L1429.5,845.2 L1436.8,847.9 L1442.3,851.6 L1449.6,848.8 L1455.1,853.4 L1469.7,854.3 L1480.6,855.2 L1487.9,858.8 L1497.0,861.6 L1500.7,857.0 L1504.3,860.7 L1509.8,857.9 L1517.1,863.4 L1524.4,860.7 L1531.7,863.4 L1540.8,861.6 L1548.1,866.1 L1553.6,864.3 L1560.9,867.1 L1566.9,862.5" stroke="#5b9bd5"/><path d="M1054.2,859.8 L1056.4,844.3 L1059.2,827.9 L1062.8,812.4 L1067.4,802.3 L1071.9,791.4 L1076.5,784.1 L1083.8,777.7 L1091.1,771.7 L1098.4,768.6 L1109.3,767.3 L1120.3,767.7 L1134.9,769.1 L1145.8,770.4 L1154.9,770.4 L1160.4,767.7 L1171.3,770.4 L1180.5,772.2 L1189.6,771.7 L1200.5,768.6 L1211.5,763.1 L1222.4,760.0 L1231.5,760.4 L1242.5,763.7 L1253.4,767.7 L1262.5,774.1 L1273.5,781.4 L1284.9,790.5 L1296.4,798.7 L1309.2,806.9 L1323.8,816.0 L1336.5,821.5 L1340.2,819.6 L1349.3,823.3 L1360.2,828.8 L1363.9,826.9 L1373.0,833.3 L1382.1,834.2 L1393.1,837.9 L1400.4,837.0 L1405.8,841.5 L1411.3,839.7 L1420.4,844.3 L1425.9,841.5 L1435.0,845.2 L1440.5,841.5 L1444.1,841.5 L1449.6,847.0 L1455.1,843.3 L1466.0,847.0 L1471.5,845.2 L1480.6,850.6 L1487.9,847.0 L1495.2,849.7 L1504.3,850.6 L1509.8,847.0 L1517.1,851.6 L1528.0,848.8 L1535.3,851.6 L1540.8,854.3 L1546.3,855.2 L1549.9,851.6 L1555.4,855.2 L1559.9,853.4 L1566.9,858.8" stroke="#ed7d31"/></g><line x1="1285" y1="676.5" x2="1285" y2="999.8" stroke="#827e6e" stroke-width="2.1" stroke-dasharray="7.8 6.1"/><line x1="1052.5" y1="676.5" x2="1052.5" y2="999.8" stroke="#000" stroke-width="1.5"/><line x1="1567" y1="676.5" x2="1567" y2="999.8" stroke="#222" stroke-width="1.5"/><line x1="1052.5" y1="999.8" x2="1567" y2="999.8" stroke="#bfbfbf" stroke-width="1.6"/><rect x="1051.7" y="647.3" width="233.3" height="29.2" fill="#ffc000"/><rect x="1287.3" y="647.3" width="280.5" height="29.2" fill="#7030a0"/><text x="1000.3" y="683.6" font-size="24.3" text-anchor="start" fill="#000" ><tspan>10</tspan><tspan font-size="16.5" dy="-7.5">5</tspan></text><text x="1000.3" y="766.6" font-size="24.3" text-anchor="start" fill="#000" ><tspan>10</tspan><tspan font-size="16.5" dy="-7.5">4</tspan></text><text x="1000.3" y="847.6" font-size="24.3" text-anchor="start" fill="#000" ><tspan>10</tspan><tspan font-size="16.5" dy="-7.5">3</tspan></text><text x="1000.3" y="929.7" font-size="24.3" text-anchor="start" fill="#000" ><tspan>10</tspan><tspan font-size="16.5" dy="-7.5">2</tspan></text><text transform="translate(962,837.5) rotate(-90)" text-anchor="middle" font-size="24.6">Intensity (counts)</text><text transform="translate(1061.3,1012.3) rotate(-90)" text-anchor="end" font-size="20.4">0.0</text><text transform="translate(1088.6,1012.3) rotate(-90)" text-anchor="end" font-size="20.4">0.8</text><text transform="translate(1115.8,1012.3) rotate(-90)" text-anchor="end" font-size="20.4">1.7</text><text transform="translate(1143.1,1012.3) rotate(-90)" text-anchor="end" font-size="20.4">2.5</text><text transform="translate(1170.3,1012.3) rotate(-90)" text-anchor="end" font-size="20.4">3.4</text><text transform="translate(1197.6,1012.3) rotate(-90)" text-anchor="end" font-size="20.4">4.2</text><text transform="translate(1224.9,1012.3) rotate(-90)" text-anchor="end" font-size="20.4">5.0</text><text transform="translate(1252.1,1012.3) rotate(-90)" text-anchor="end" font-size="20.4">5.9</text><text transform="translate(1279.4,1012.3) rotate(-90)" text-anchor="end" font-size="20.4">6.7</text><text transform="translate(1306.6,1012.3) rotate(-90)" text-anchor="end" font-size="20.4">7.5</text><text transform="translate(1333.9,1012.3) rotate(-90)" text-anchor="end" font-size="20.4">8.4</text><text transform="translate(1361.2,1012.3) rotate(-90)" text-anchor="end" font-size="20.4">9.2</text><text transform="translate(1388.4,1012.3) rotate(-90)" text-anchor="end" font-size="20.4">10.1</text><text transform="translate(1415.7,1012.3) rotate(-90)" text-anchor="end" font-size="20.4">10.9</text><text transform="translate(1442.9,1012.3) rotate(-90)" text-anchor="end" font-size="20.4">11.7</text><text transform="translate(1470.2,1012.3) rotate(-90)" text-anchor="end" font-size="20.4">12.6</text><text transform="translate(1497.5,1012.3) rotate(-90)" text-anchor="end" font-size="20.4">13.4</text><text transform="translate(1524.7,1012.3) rotate(-90)" text-anchor="end" font-size="20.4">14.2</text><text transform="translate(1552.0,1012.3) rotate(-90)" text-anchor="end" font-size="20.4">15.1</text><text x="1301.3" y="1083.3" font-size="24.7" text-anchor="middle" fill="#000" ><tspan>Distance from surface (nm)</tspan></text><text x="1168.8" y="669.7" font-size="24.7" text-anchor="middle" fill="#000" ><tspan>oxidized SiN</tspan><tspan font-size="17.3" dy="4.9">X</tspan></text><text x="1435.6" y="669.7" font-size="24.7" text-anchor="middle" fill="#fff" ><tspan>SiN</tspan><tspan font-size="17.3" dy="4.9">X</tspan></text><text x="1167.9" y="707.9" font-size="24.7" text-anchor="middle" fill="#000" ><tspan>~7.1 nm</tspan></text><line x1="1054.5" y1="720" x2="1282" y2="720" stroke="#000" stroke-width="1.6"/><path d="M1052.5,720 L1068.5,712 L1062.5,720 L1068.5,728 Z M1284,720 L1268,712 L1274,720 L1268,728 Z" fill="#000"/><text x="1068.9" y="755.2" font-size="28" text-anchor="start" fill="#4472c4" font-weight="bold" ><tspan>OH</tspan><tspan font-size="18.2" dy="-11.8">-</tspan></text><text x="1363.2" y="808.9" font-size="28" text-anchor="start" fill="#ed7d31" font-weight="bold" ><tspan>SiO</tspan><tspan font-size="18.2" dy="5.6">2</tspan><tspan font-size="18.2" dy="-17.4">-</tspan></text><text x="1472.6" y="750.7" font-size="28" text-anchor="start" fill="#c55cbc" font-weight="bold" ><tspan>SiN</tspan><tspan font-size="18.2" dy="-11.8">-</tspan></text><text x="1178.3" y="811.4" font-size="28" text-anchor="start" fill="#70ad47" font-weight="bold" ><tspan>S</tspan><tspan font-size="18.2" dy="-11.8">-</tspan></text><text x="1111.2" y="870.0" font-size="28" text-anchor="start" fill="#4472c4" font-weight="bold" ><tspan>Cl</tspan><tspan font-size="18.2" dy="-11.8">-</tspan></text><text x="57.8" y="1155.4" font-size="39" text-anchor="start" fill="#000" font-weight="bold" ><tspan>c</tspan></text><text x="116.9" y="1166.4" font-size="24.7" text-anchor="start" fill="#000" ><tspan>Thickness of oxidized SiN</tspan><tspan font-size="16.8" dy="4.4">x</tspan><tspan dy="-4.4">, </tspan><tspan fill="#4472c4" font-weight="bold">PDMS-coated</tspan></text><text x="116.9" y="1195.4" font-size="24.7" text-anchor="start" fill="#000" ><tspan>vs. </tspan><tspan font-weight="bold">exposed</tspan><tspan>, rat, at 7-month</tspan></text><rect x="116.9" y="1204.6" width="421.6" height="231.3" fill="#fff"/><line x1="177.1" y1="1204.6" x2="177.1" y2="1435.9" stroke="#e4e4e4" stroke-width="1.1"/><line x1="237.4" y1="1204.6" x2="237.4" y2="1435.9" stroke="#e4e4e4" stroke-width="1.1"/><line x1="297.6" y1="1204.6" x2="297.6" y2="1435.9" stroke="#e4e4e4" stroke-width="1.1"/><line x1="357.8" y1="1204.6" x2="357.8" y2="1435.9" stroke="#e4e4e4" stroke-width="1.1"/><line x1="418.0" y1="1204.6" x2="418.0" y2="1435.9" stroke="#e4e4e4" stroke-width="1.1"/><line x1="478.3" y1="1204.6" x2="478.3" y2="1435.9" stroke="#e4e4e4" stroke-width="1.1"/><rect x="116.9" y="1232.9" width="123.5" height="28.4" fill="#ffc000" stroke="#8c8c8c" stroke-width="1"/><rect x="116.9" y="1261.3" width="135.5" height="29.0" fill="#ffe699" stroke="#8c8c8c" stroke-width="1"/><rect x="116.9" y="1349.1" width="177.7" height="28.4" fill="#ffc000" stroke="#8c8c8c" stroke-width="1"/><rect x="116.9" y="1377.5" width="213.8" height="29.4" fill="#ffe699" stroke="#8c8c8c" stroke-width="1"/><rect x="116.9" y="1204.6" width="421.6" height="231.3" fill="none" stroke="#000" stroke-width="1.5"/><text x="116.9" y="1468.9" font-size="21" text-anchor="middle" fill="#000" ><tspan>0</tspan></text><text x="177.1" y="1468.9" font-size="21" text-anchor="middle" fill="#000" ><tspan>2</tspan></text><text x="237.4" y="1468.9" font-size="21" text-anchor="middle" fill="#000" ><tspan>4</tspan></text><text x="297.6" y="1468.9" font-size="21" text-anchor="middle" fill="#000" ><tspan>6</tspan></text><text x="357.8" y="1468.9" font-size="21" text-anchor="middle" fill="#000" ><tspan>8</tspan></text><text x="418.0" y="1468.9" font-size="21" text-anchor="middle" fill="#000" ><tspan>10</tspan></text><text x="478.3" y="1468.9" font-size="21" text-anchor="middle" fill="#000" ><tspan>12</tspan></text><text x="538.5" y="1468.9" font-size="21" text-anchor="middle" fill="#000" ><tspan>14</tspan></text><text x="328.6" y="1501.9" font-size="24.6" text-anchor="middle" fill="#000" ><tspan>Thickness (nm)</tspan></text><text transform="translate(102.7,1273) rotate(-90)" text-anchor="middle" font-size="24.8">Chip-B</text><text transform="translate(102.7,1388.1) rotate(-90)" text-anchor="middle" font-size="24.8">Chip-A</text><rect x="294" y="1234.7" width="29.5" height="20.6" fill="#ffc000" stroke="#1a1a1a" stroke-width="1.5"/><rect x="294" y="1265.9" width="29.5" height="20.2" fill="#fff2cc" stroke="#1a1a1a" stroke-width="1.5"/><text x="330.2" y="1254.9" font-size="20.1" text-anchor="start" fill="#000" ><tspan>PDMS-coated</tspan></text><text x="331.3" y="1280.4" font-size="20.1" text-anchor="start" fill="#000" ><tspan>exposed</tspan></text><path d="M455.3,1234 H468.5 Q470.5,1234 470.5,1236 V1290.5 Q470.5,1292.5 468.5,1292.5 H455.3" fill="none" stroke="#7f7f7f" stroke-width="2"/><rect x="477" y="1214.5" width="95" height="46.5" fill="#fff"/><use href="#rat" x="478.8" y="1216.4" width="91.8" height="43.9"/><text x="495.0" y="1282.9" font-size="21" text-anchor="start" fill="#000" ><tspan>7m</tspan></text><text x="631.0" y="1155.3" font-size="38.6" text-anchor="start" fill="#000" font-weight="bold" ><tspan>d</tspan></text><text x="668.6" y="1164.4" font-size="24.7" text-anchor="start" fill="#000" ><tspan>Thickness of oxidized SiN</tspan><tspan font-size="16.8" dy="4.4">x</tspan><tspan dy="-4.4">, </tspan><tspan fill="#4472c4" font-weight="bold">PDMS-coated</tspan><tspan>,</tspan></text><text x="668.6" y="1194.3" font-size="24.7" text-anchor="start" fill="#000" ><tspan>rat, at 7 and 12-month</tspan></text><rect x="667.6" y="1206.4" width="418.6" height="231.1" fill="#fff"/><line x1="727.4" y1="1206.4" x2="727.4" y2="1437.5" stroke="#e4e4e4" stroke-width="1.1"/><line x1="787.2" y1="1206.4" x2="787.2" y2="1437.5" stroke="#e4e4e4" stroke-width="1.1"/><line x1="847.0" y1="1206.4" x2="847.0" y2="1437.5" stroke="#e4e4e4" stroke-width="1.1"/><line x1="906.8" y1="1206.4" x2="906.8" y2="1437.5" stroke="#e4e4e4" stroke-width="1.1"/><line x1="966.6" y1="1206.4" x2="966.6" y2="1437.5" stroke="#e4e4e4" stroke-width="1.1"/><line x1="1026.4" y1="1206.4" x2="1026.4" y2="1437.5" stroke="#e4e4e4" stroke-width="1.1"/><rect x="667.6" y="1229.3" width="104.7" height="22.6" fill="#ffe699" stroke="#8c8c8c" stroke-width="1"/><rect x="667.6" y="1251.9" width="134.6" height="22.8" fill="#ffc000" stroke="#8c8c8c" stroke-width="1"/><rect x="667.6" y="1274.7" width="146.5" height="23.2" fill="#bf9000" stroke="#8c8c8c" stroke-width="1"/><rect x="667.6" y="1344.7" width="116.6" height="22.5" fill="#ffe699" stroke="#8c8c8c" stroke-width="1"/><rect x="667.6" y="1367.2" width="176.4" height="23.2" fill="#ffc000" stroke="#8c8c8c" stroke-width="1"/><rect x="667.6" y="1390.4" width="230.2" height="22.9" fill="#bf9000" stroke="#8c8c8c" stroke-width="1"/><rect x="667.6" y="1206.4" width="418.6" height="231.1" fill="none" stroke="#000" stroke-width="1.5"/><text x="667.6" y="1469.3" font-size="21" text-anchor="middle" fill="#000" ><tspan>0</tspan></text><text x="727.4" y="1469.3" font-size="21" text-anchor="middle" fill="#000" ><tspan>2</tspan></text><text x="787.2" y="1469.3" font-size="21" text-anchor="middle" fill="#000" ><tspan>4</tspan></text><text x="847.0" y="1469.3" font-size="21" text-anchor="middle" fill="#000" ><tspan>6</tspan></text><text x="906.8" y="1469.3" font-size="21" text-anchor="middle" fill="#000" ><tspan>8</tspan></text><text x="966.6" y="1469.3" font-size="21" text-anchor="middle" fill="#000" ><tspan>10</tspan></text><text x="1026.4" y="1469.3" font-size="21" text-anchor="middle" fill="#000" ><tspan>12</tspan></text><text x="1086.2" y="1469.3" font-size="21" text-anchor="middle" fill="#000" ><tspan>14</tspan></text><text x="879.2" y="1500.8" font-size="24.6" text-anchor="middle" fill="#000" ><tspan>Thickness (nm)</tspan></text><text transform="translate(651.9,1266.3) rotate(-90)" text-anchor="middle" font-size="24.8">Chip-B</text><text transform="translate(651.9,1381.5) rotate(-90)" text-anchor="middle" font-size="24.8">Chip-A</text><rect x="916.5" y="1222" width="29.8" height="20.6" fill="#fff2cc" stroke="#1a1a1a" stroke-width="1.5"/><rect x="916.5" y="1259.8" width="29.8" height="20.2" fill="#ffc000" stroke="#1a1a1a" stroke-width="1.5"/><rect x="916.5" y="1298.9" width="29.8" height="19.9" fill="#bf9000" stroke="#1a1a1a" stroke-width="1.5"/><text x="956.3" y="1238.0" font-size="20.2" text-anchor="start" fill="#000" ><tspan>Ref (0m)</tspan></text><text x="964.6" y="1277.1" font-size="20.2" text-anchor="start" fill="#000" ><tspan>7m</tspan></text><text x="961.3" y="1316.6" font-size="20.2" text-anchor="start" fill="#000" ><tspan>12m</tspan></text><path d="M991.8,1255.2 H1005 Q1007,1255.2 1007,1257.2 V1324.1 Q1007,1326.1 1005,1326.1 H991.8" fill="none" stroke="#7f7f7f" stroke-width="2"/><rect x="1010" y="1262" width="95" height="46" fill="#fff"/><use href="#rat" x="1011.8" y="1263.0" width="91.9" height="44.4"/><text x="779.0" y="1319.2" font-size="20.2" text-anchor="start" fill="#000" font-style="italic" ><tspan>~1.4 nm/year</tspan></text><text x="919.8" y="1411.0" font-size="20.2" text-anchor="start" fill="#000" font-style="italic" ><tspan>~3.9 nm/year</tspan></text><text x="1186.8" y="1155.4" font-size="38.8" text-anchor="start" fill="#000" font-weight="bold" ><tspan>e</tspan></text><text x="1225.7" y="1163.7" font-size="24.7" text-anchor="start" fill="#000" ><tspan>Thickness of oxidized SiN</tspan><tspan font-size="16.8" dy="4.4">x</tspan><tspan dy="-4.4">, </tspan><tspan fill="#4472c4" font-weight="bold">PDMS-coated</tspan><tspan>,</tspan></text><text x="1225.7" y="1193.0" font-size="24.7" text-anchor="start" fill="#000" ><tspan>rat vs. PBS 67 °C, at 12-month</tspan></text><rect x="1225.4" y="1205.7" width="420.8" height="231.3" fill="#fff"/><line x1="1285.5" y1="1205.7" x2="1285.5" y2="1437" stroke="#e4e4e4" stroke-width="1.1"/><line x1="1345.6" y1="1205.7" x2="1345.6" y2="1437" stroke="#e4e4e4" stroke-width="1.1"/><line x1="1405.7" y1="1205.7" x2="1405.7" y2="1437" stroke="#e4e4e4" stroke-width="1.1"/><line x1="1465.9" y1="1205.7" x2="1465.9" y2="1437" stroke="#e4e4e4" stroke-width="1.1"/><line x1="1526.0" y1="1205.7" x2="1526.0" y2="1437" stroke="#e4e4e4" stroke-width="1.1"/><line x1="1586.1" y1="1205.7" x2="1586.1" y2="1437" stroke="#e4e4e4" stroke-width="1.1"/><rect x="1225.4" y="1233.7" width="147.3" height="29.0" fill="#bf9000" stroke="#8c8c8c" stroke-width="1"/><rect x="1225.4" y="1262.7" width="258.5" height="29.0" fill="#b4c7e7" stroke="#8c8c8c" stroke-width="1"/><rect x="1225.4" y="1350" width="231.4" height="28.7" fill="#bf9000" stroke="#8c8c8c" stroke-width="1"/><rect x="1225.4" y="1378.7" width="321.6" height="29.0" fill="#b4c7e7" stroke="#8c8c8c" stroke-width="1"/><rect x="1225.4" y="1205.7" width="420.8" height="231.3" fill="none" stroke="#000" stroke-width="1.5"/><text x="1225.4" y="1468.4" font-size="21" text-anchor="middle" fill="#000" ><tspan>0</tspan></text><text x="1285.5" y="1468.4" font-size="21" text-anchor="middle" fill="#000" ><tspan>2</tspan></text><text x="1345.6" y="1468.4" font-size="21" text-anchor="middle" fill="#000" ><tspan>4</tspan></text><text x="1405.7" y="1468.4" font-size="21" text-anchor="middle" fill="#000" ><tspan>6</tspan></text><text x="1465.9" y="1468.4" font-size="21" text-anchor="middle" fill="#000" ><tspan>8</tspan></text><text x="1526.0" y="1468.4" font-size="21" text-anchor="middle" fill="#000" ><tspan>10</tspan></text><text x="1586.1" y="1468.4" font-size="21" text-anchor="middle" fill="#000" ><tspan>12</tspan></text><text x="1646.2" y="1468.4" font-size="21" text-anchor="middle" fill="#000" ><tspan>14</tspan></text><text x="1438.6" y="1500.4" font-size="24.6" text-anchor="middle" fill="#000" ><tspan>Thickness (nm)</tspan></text><text transform="translate(1210.9,1265.4) rotate(-90)" text-anchor="middle" font-size="24.8">Chip-B</text><text transform="translate(1210.9,1379.7) rotate(-90)" text-anchor="middle" font-size="24.8">Chip-A</text><rect x="1502.2" y="1232" width="29.7" height="20.3" fill="#bf9000" stroke="#1a1a1a" stroke-width="1.5"/><rect x="1502.2" y="1292" width="29.7" height="21.0" fill="#b4c7e7" stroke="#1a1a1a" stroke-width="1.5"/><text x="1541.0" y="1248.0" font-size="20.2" text-anchor="start" fill="#000" ><tspan>12m</tspan></text><text x="1541.0" y="1310.4" font-size="20.2" text-anchor="start" fill="#000" ><tspan>12m</tspan></text><rect x="1582" y="1213" width="96" height="46.5" fill="#fff"/><use href="#rat" x="1582.9" y="1214.7" width="92.8" height="44.0"/><g transform="translate(1592.9,1273.3)"><rect x="-1.2" y="-1.5" width="50.6" height="57.6" fill="#fff"/><ellipse cx="24.1" cy="54.3" rx="24.1" ry="1.3" fill="#9a9a9a" opacity="0.55"/><path d="M0.8,2.2 C2,4 2,6 2,9 L2,48.6 C2,52.6 6,53.6 10,53.8 L38.2,53.8 C42.2,53.6 46.2,52.6 46.2,48.6 L46.2,9 C46.2,6 46.2,4 47.4,2.2 Z" fill="url(#glass)" stroke="#cfcfcf" stroke-width="0.8"/><path d="M2.2,17.3 C2.2,15.5 46.0,15.5 46.0,17.3 L46.0,48.6 C46.0,52.4 42.2,53.4 38.2,53.6 L10,53.6 C6,53.4 2.2,52.4 2.2,48.6 Z" fill="url(#liq)"/><ellipse cx="24.1" cy="17.7" rx="21.9" ry="2.2" fill="#00aee8"/><ellipse cx="24.1" cy="2.2" rx="23.5" ry="1.7" fill="#f4f4f4" stroke="#9c9c9c" stroke-width="0.9"/><text x="23.7" y="38.9" font-size="16.6" text-anchor="middle" fill="#000">67 °C</text></g><text x="65.0" y="1680.4" font-size="41.2" text-anchor="start" fill="#000" font-weight="bold" ><tspan>f</tspan></text><text x="147.7" y="1671.9" font-size="24.7" text-anchor="start" fill="#000" ><tspan>Average [OH</tspan><tspan font-size="15.3" dy="-9.9">-</tspan><tspan dy="9.9">] intensity,</tspan></text><text x="147.7" y="1700.9" font-size="24.7" text-anchor="start" fill="#000" ><tspan fill="#4472c4" font-weight="bold">PDMS-coated</tspan><tspan> vs. </tspan><tspan font-weight="bold">exposed</tspan><tspan>, rat, 7-month</tspan></text><rect x="172.5" y="1718.7" width="351.8" height="237.0" fill="#fff"/><line x1="172.5" y1="1758.2" x2="524.3" y2="1758.2" stroke="#dcdcdc" stroke-width="1.1"/><line x1="172.5" y1="1797.7" x2="524.3" y2="1797.7" stroke="#dcdcdc" stroke-width="1.1"/><line x1="172.5" y1="1837.2" x2="524.3" y2="1837.2" stroke="#dcdcdc" stroke-width="1.1"/><line x1="172.5" y1="1876.7" x2="524.3" y2="1876.7" stroke="#dcdcdc" stroke-width="1.1"/><line x1="172.5" y1="1916.2" x2="524.3" y2="1916.2" stroke="#dcdcdc" stroke-width="1.1"/><rect x="172.5" y="1718.7" width="351.8" height="237.0" fill="none" stroke="#b8b8b8" stroke-width="1.1"/><rect x="216.5" y="1902.2" width="43.9" height="52.6" fill="#f5b8fa" stroke="#3a3a3a" stroke-width="1"/><rect x="260.4" y="1885.5" width="43.9" height="69.3" fill="#e9e4ea" stroke="#3a3a3a" stroke-width="1"/><rect x="393.3" y="1911.4" width="43.2" height="43.4" fill="#f5b8fa" stroke="#3a3a3a" stroke-width="1"/><rect x="436.5" y="1903.3" width="44.6" height="51.5" fill="#e9e4ea" stroke="#3a3a3a" stroke-width="1"/><text x="157.7" y="1723.0" font-size="16" text-anchor="end" fill="#000" ><tspan>600</tspan></text><text x="157.7" y="1761.9" font-size="16" text-anchor="end" fill="#000" ><tspan>500</tspan></text><text x="157.7" y="1801.6" font-size="16" text-anchor="end" fill="#000" ><tspan>400</tspan></text><text x="157.7" y="1840.9" font-size="16" text-anchor="end" fill="#000" ><tspan>300</tspan></text><text x="157.7" y="1880.6" font-size="16" text-anchor="end" fill="#000" ><tspan>200</tspan></text><text x="157.7" y="1919.6" font-size="16" text-anchor="end" fill="#000" ><tspan>100</tspan></text><text x="157.7" y="1959.6" font-size="16" text-anchor="end" fill="#000" ><tspan>0</tspan></text><text transform="translate(92.8,1848.3) rotate(-90)" text-anchor="middle" font-size="24.6">Intensity (counts)</text><text x="261.3" y="1994.0" font-size="24.9" text-anchor="middle" fill="#000" ><tspan>Chip-A</tspan></text><text x="436.5" y="1992.2" font-size="24.9" text-anchor="middle" fill="#000" ><tspan>Chip-B</tspan></text><rect x="184.2" y="1749.1" width="29.4" height="18.8" fill="#f4a6dc" stroke="#1a1a1a" stroke-width="1.5"/><rect x="184.2" y="1780.3" width="29.4" height="20.2" fill="#e9e4ea" stroke="#1a1a1a" stroke-width="1.5"/><text x="223.9" y="1769.3" font-size="24.5" text-anchor="start" fill="#000" ><tspan>PDMS-coated</tspan></text><text x="222.1" y="1795.9" font-size="24.5" text-anchor="start" fill="#000" ><tspan>exposed</tspan></text><path d="M374.8,1745.2 H388.4 Q390.4,1745.2 390.4,1747.2 V1802 Q390.4,1804 388.4,1804 H374.8" fill="none" stroke="#7f7f7f" stroke-width="2"/><rect x="406.5" y="1728" width="102.5" height="50" fill="#fff"/><use href="#rat" x="407.2" y="1729.1" width="102.2" height="48.5"/><text x="407.0" y="1808.0" font-size="24.4" text-anchor="start" fill="#000" ><tspan>7-month</tspan></text><text x="625.0" y="1679.9" font-size="41.2" text-anchor="start" fill="#000" font-weight="bold" ><tspan>g</tspan></text><text x="748.2" y="1675.0" font-size="24.7" text-anchor="start" fill="#000" ><tspan>Average [OH</tspan><tspan font-size="15.3" dy="-9.9">-</tspan><tspan dy="9.9">] intensity,</tspan></text><text x="748.2" y="1704.1" font-size="24.7" text-anchor="start" fill="#000" ><tspan fill="#4472c4" font-weight="bold">PDMS-coated</tspan><tspan>, rat, at 7 and 12-month</tspan></text><rect x="752.1" y="1719.3" width="353.0" height="237.0" fill="#fff"/><line x1="752.1" y1="1758.8" x2="1105.1" y2="1758.8" stroke="#dcdcdc" stroke-width="1.1"/><line x1="752.1" y1="1798.3" x2="1105.1" y2="1798.3" stroke="#dcdcdc" stroke-width="1.1"/><line x1="752.1" y1="1837.8" x2="1105.1" y2="1837.8" stroke="#dcdcdc" stroke-width="1.1"/><line x1="752.1" y1="1877.3" x2="1105.1" y2="1877.3" stroke="#dcdcdc" stroke-width="1.1"/><line x1="752.1" y1="1916.8" x2="1105.1" y2="1916.8" stroke="#dcdcdc" stroke-width="1.1"/><rect x="752.1" y="1719.3" width="353.0" height="237.0" fill="none" stroke="#b8b8b8" stroke-width="1.1"/><rect x="774" y="1916.5" width="44.1" height="39.0" fill="#e9e4ea" stroke="#3a3a3a" stroke-width="1"/><rect x="818.1" y="1903.6" width="43.4" height="51.9" fill="#f5b8fa" stroke="#3a3a3a" stroke-width="1"/><rect x="861.5" y="1883" width="44.7" height="72.5" fill="#bb8abf" stroke="#3a3a3a" stroke-width="1"/><rect x="950.7" y="1916.5" width="43.4" height="39.0" fill="#e9e4ea" stroke="#3a3a3a" stroke-width="1"/><rect x="994.1" y="1912.2" width="44.1" height="43.3" fill="#f5b8fa" stroke="#3a3a3a" stroke-width="1"/><rect x="1038.2" y="1893" width="44.0" height="62.5" fill="#bb8abf" stroke="#3a3a3a" stroke-width="1"/><text x="736.9" y="1723.7" font-size="16" text-anchor="end" fill="#000" ><tspan>600</tspan></text><text x="736.9" y="1763.5" font-size="16" text-anchor="end" fill="#000" ><tspan>500</tspan></text><text x="736.9" y="1803.2" font-size="16" text-anchor="end" fill="#000" ><tspan>400</tspan></text><text x="736.9" y="1842.4" font-size="16" text-anchor="end" fill="#000" ><tspan>300</tspan></text><text x="736.9" y="1882.1" font-size="16" text-anchor="end" fill="#000" ><tspan>200</tspan></text><text x="736.9" y="1921.9" font-size="16" text-anchor="end" fill="#000" ><tspan>100</tspan></text><text x="736.9" y="1960.7" font-size="16" text-anchor="end" fill="#000" ><tspan>0</tspan></text><text transform="translate(661.8,1848.6) rotate(-90)" text-anchor="middle" font-size="24.6">Intensity (counts)</text><text x="841.5" y="1993.8" font-size="24.9" text-anchor="middle" fill="#000" ><tspan>Chip-A</tspan></text><text x="1016.8" y="1995.5" font-size="24.9" text-anchor="middle" fill="#000" ><tspan>Chip-B</tspan></text><rect x="917.2" y="1730.3" width="30.1" height="21.5" fill="#e9e4ea" stroke="#1a1a1a" stroke-width="1.5"/><rect x="917.2" y="1768.4" width="30.1" height="20.5" fill="#f4a6dc" stroke="#1a1a1a" stroke-width="1.5"/><rect x="917.2" y="1807.8" width="30.1" height="20.2" fill="#bb8abf" stroke="#1a1a1a" stroke-width="1.5"/><text x="960.3" y="1752.9" font-size="24.5" text-anchor="start" fill="#000" ><tspan>Ref (0m)</tspan></text><text x="957.3" y="1785.0" font-size="24.5" text-anchor="start" fill="#000" ><tspan>7m</tspan></text><text x="957.3" y="1824.1" font-size="24.5" text-anchor="start" fill="#000" ><tspan>12m</tspan></text><path d="M1002,1763.1 H1015 Q1017,1763.1 1017,1765.1 V1832 Q1017,1834 1015,1834 H1002" fill="none" stroke="#7f7f7f" stroke-width="2"/><rect x="1030" y="1774" width="104" height="51" fill="#fff"/><use href="#rat" x="1031.7" y="1776.5" width="100.1" height="47.8"/><text x="1203.5" y="1679.9" font-size="38.6" text-anchor="start" fill="#000" font-weight="bold" ><tspan>h</tspan></text><text x="1302.6" y="1673.3" font-size="24.7" text-anchor="start" fill="#000" ><tspan>Average [OH</tspan><tspan font-size="15.3" dy="-9.9">-</tspan><tspan dy="9.9">] intensity,</tspan></text><text x="1302.6" y="1702.5" font-size="24.7" text-anchor="start" fill="#000" ><tspan fill="#4472c4" font-weight="bold">PDMS-coated</tspan><tspan>, rat vs. PBS 67 °C</tspan></text><rect x="1299.6" y="1719.3" width="360.9" height="242.0" fill="#fff"/><line x1="1299.6" y1="1767.4" x2="1660.5" y2="1767.4" stroke="#dcdcdc" stroke-width="1.1"/><line x1="1299.6" y1="1816.1" x2="1660.5" y2="1816.1" stroke="#dcdcdc" stroke-width="1.1"/><line x1="1299.6" y1="1864.5" x2="1660.5" y2="1864.5" stroke="#dcdcdc" stroke-width="1.1"/><line x1="1299.6" y1="1912.9" x2="1660.5" y2="1912.9" stroke="#dcdcdc" stroke-width="1.1"/><rect x="1299.6" y="1719.3" width="360.9" height="242.0" fill="none" stroke="#b8b8b8" stroke-width="1.1"/><rect x="1344.7" y="1920.5" width="44.7" height="40.0" fill="#bb8abf" stroke="#3a3a3a" stroke-width="1"/><rect x="1389.4" y="1753.1" width="45.1" height="207.4" fill="#9dc3e6" stroke="#3a3a3a" stroke-width="1"/><rect x="1525.3" y="1931.4" width="44.7" height="29.1" fill="#bb8abf" stroke="#3a3a3a" stroke-width="1"/><rect x="1570" y="1840.6" width="45.4" height="119.9" fill="#9dc3e6" stroke="#3a3a3a" stroke-width="1"/><text x="1284.3" y="1723.7" font-size="16" text-anchor="end" fill="#000" ><tspan>600</tspan></text><text x="1284.3" y="1772.1" font-size="16" text-anchor="end" fill="#000" ><tspan>500</tspan></text><text x="1284.3" y="1820.8" font-size="16" text-anchor="end" fill="#000" ><tspan>400</tspan></text><text x="1284.3" y="1868.9" font-size="16" text-anchor="end" fill="#000" ><tspan>300</tspan></text><text x="1284.3" y="1916.9" font-size="16" text-anchor="end" fill="#000" ><tspan>200</tspan></text><text x="1284.3" y="1965.0" font-size="16" text-anchor="end" fill="#000" ><tspan>100</tspan></text><text transform="translate(1231.2,1848.6) rotate(-90)" text-anchor="middle" font-size="24.6">Intensity (counts)</text><text x="1392.0" y="1996.4" font-size="24.9" text-anchor="middle" fill="#000" ><tspan>Chip-A</tspan></text><text x="1569.4" y="1996.4" font-size="24.9" text-anchor="middle" fill="#000" ><tspan>Chip-B</tspan></text><rect x="1470.9" y="1734.9" width="29.9" height="19.9" fill="#bb8abf" stroke="#1a1a1a" stroke-width="1.5"/><rect x="1470.9" y="1791.6" width="29.9" height="20.5" fill="#b4c7e7" stroke="#1a1a1a" stroke-width="1.5"/><text x="1510.7" y="1753.5" font-size="24.5" text-anchor="start" fill="#000" ><tspan>12m</tspan></text><text x="1510.7" y="1810.2" font-size="24.5" text-anchor="start" fill="#000" ><tspan>12m</tspan></text><rect x="1564.4" y="1714" width="104" height="49.5" fill="#fff"/><use href="#rat" x="1565.8" y="1715.0" width="101.4" height="48.0"/><g transform="translate(1574.3,1768.2)"><rect x="-1.2" y="-1.5" width="50.5" height="57.6" fill="#fff"/><ellipse cx="24.1" cy="54.3" rx="24.1" ry="1.3" fill="#9a9a9a" opacity="0.55"/><path d="M0.8,2.2 C2,4 2,6 2,9 L2,48.6 C2,52.6 6,53.6 10,53.8 L38.1,53.8 C42.1,53.6 46.1,52.6 46.1,48.6 L46.1,9 C46.1,6 46.1,4 47.3,2.2 Z" fill="url(#glass)" stroke="#cfcfcf" stroke-width="0.8"/><path d="M2.2,17.3 C2.2,15.5 45.9,15.5 45.9,17.3 L45.9,48.6 C45.9,52.4 42.1,53.4 38.1,53.6 L10,53.6 C6,53.4 2.2,52.4 2.2,48.6 Z" fill="url(#liq)"/><ellipse cx="24.1" cy="17.7" rx="21.9" ry="2.2" fill="#00aee8"/><ellipse cx="24.1" cy="2.2" rx="23.4" ry="1.7" fill="#f4f4f4" stroke="#9c9c9c" stroke-width="0.9"/><text x="23.7" y="38.9" font-size="16.6" text-anchor="middle" fill="#000">67 °C</text></g>
</svg>
</body></html>
